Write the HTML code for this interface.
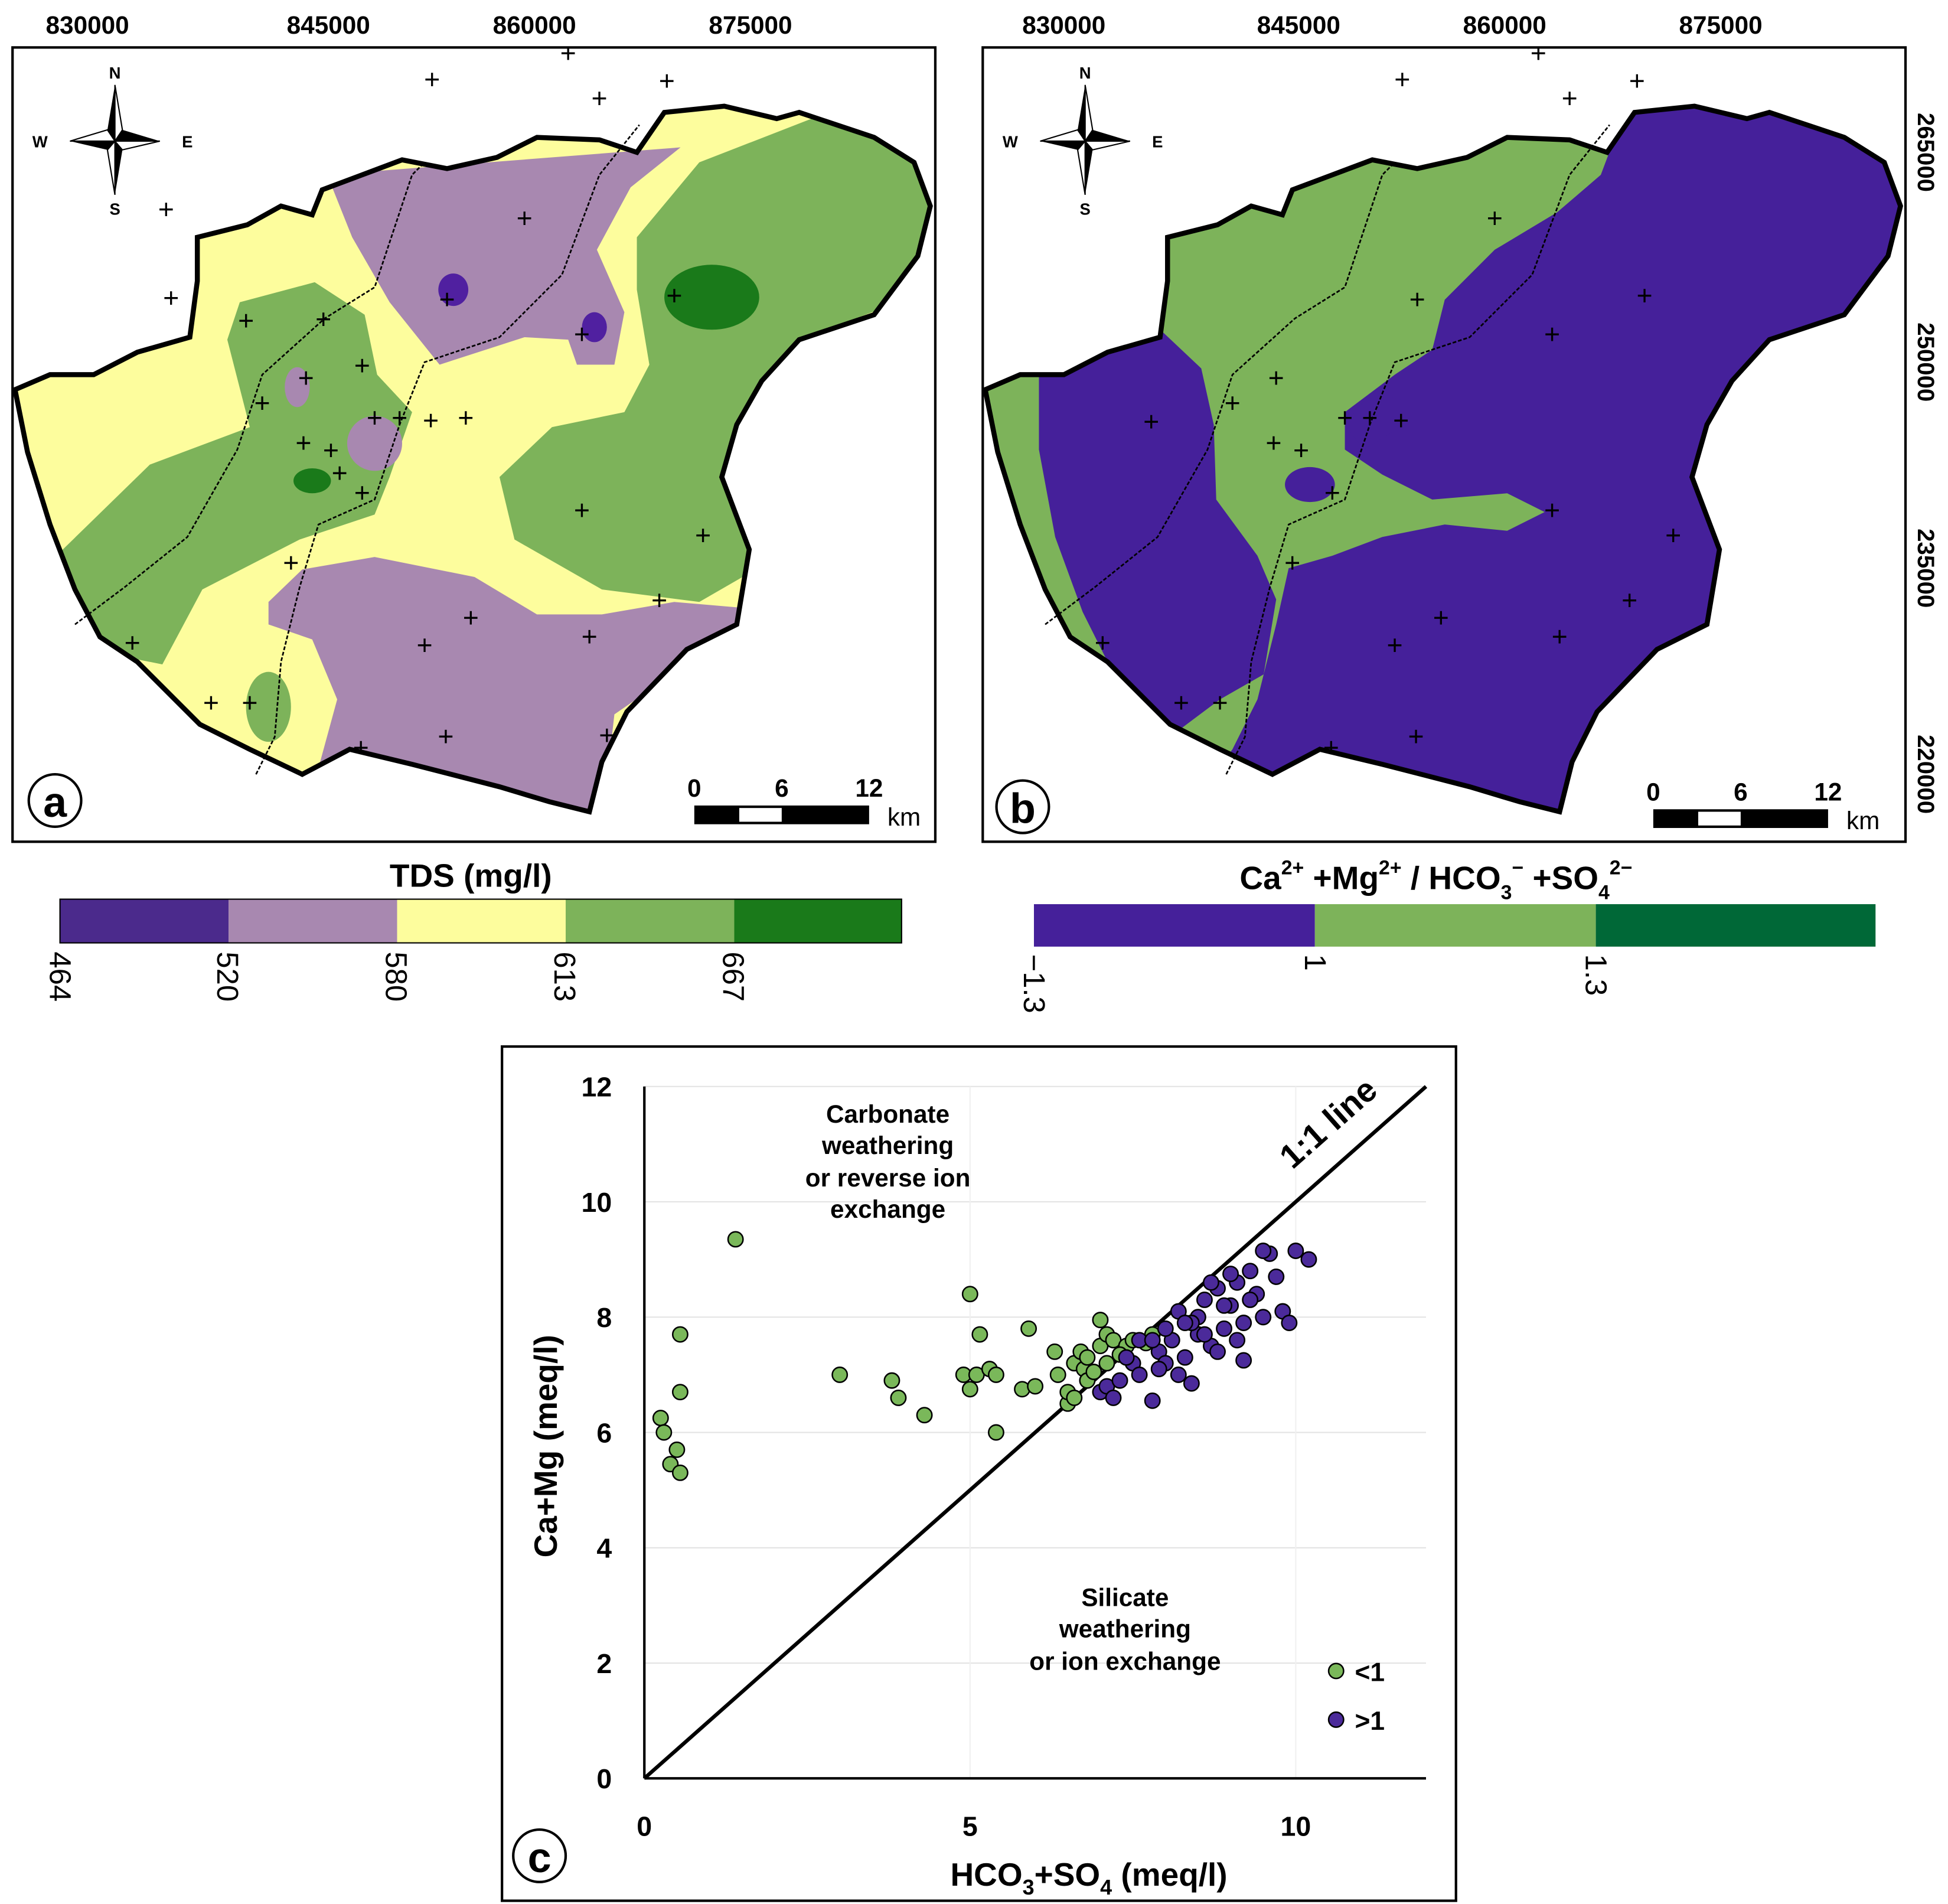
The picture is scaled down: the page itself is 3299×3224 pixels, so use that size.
<!DOCTYPE html>
<html><head><meta charset="utf-8"><style>
html,body{margin:0;padding:0;background:#fff}
svg{display:block}
text{font-family:"Liberation Sans",Arial,sans-serif}
</style></head><body>
<svg id="root" width="3299" height="3224" viewBox="0 0 1560 1524.6" xmlns="http://www.w3.org/2000/svg">
<defs>
<clipPath id="clipMap"><path id="outlinePath" d="M12,312 L40,300 L75,300 L110,282 L152,270 L158,225 L158,190 L198,180 L225,165 L250,172 L258,152 L290,140 L322,128 L358,135 L398,126 L430,110 L480,112 L510,122 L532,90 L580,85 L622,95 L640,90 L700,110 L732,130 L745,165 L735,205 L700,252 L640,272 L610,305 L590,340 L578,382 L600,440 L590,500 L550,520 L502,570 L482,610 L472,650 L440,642 L400,630 L330,612 L280,600 L242,620 L200,600 L160,580 L140,560 L110,530 L80,510 L60,472 L40,420 L22,362 Z"/></clipPath>
</defs>

<!-- ===== Panel a ===== -->
<g>
<rect x="10" y="38" width="739" height="636" fill="#fff" stroke="#000" stroke-width="2"/>
<g clip-path="url(#clipMap)">
<rect x="0" y="0" width="760" height="700" fill="#fdfd9d"/>
<path fill="#a888b0" d="M262,140 L545,118 L505,150 L478,200 L500,250 L492,292 L462,292 L455,272 L420,270 L352,292 L312,242 L282,190 Z"/>
<path fill="#a888b0" d="M215,482 L242,456 L300,446 L380,462 L430,492 L482,492 L540,482 L610,488 L590,512 L550,532 L492,572 L482,660 L400,650 L330,625 L255,615 L270,560 L250,512 L215,500 Z"/>
<path fill="#7db35a" d="M510,190 L560,130 L650,95 L720,100 L760,165 L725,240 L640,272 L602,330 L582,382 L612,452 L560,482 L482,472 L412,432 L400,382 L442,342 L500,330 L520,292 L510,232 Z"/>
<path fill="#7db35a" d="M40,450 L120,372 L200,342 L182,272 L192,242 L252,226 L292,252 L302,300 L330,330 L312,382 L300,412 L240,432 L162,472 L130,532 L80,522 Z"/>
<ellipse cx="215" cy="566" rx="18" ry="28" fill="#7db35a"/>
<ellipse cx="570" cy="238" rx="38" ry="26" fill="#1a7a1a"/>
<ellipse cx="250" cy="385" rx="15" ry="10" fill="#1a7a1a"/>
<ellipse cx="363" cy="232" rx="12" ry="13" fill="#5020a0"/>
<ellipse cx="476" cy="262" rx="10" ry="12" fill="#5020a0"/>
<ellipse cx="300" cy="355" rx="22" ry="22" fill="#a888b0"/>
<ellipse cx="238" cy="310" rx="10" ry="16" fill="#a888b0"/>
</g>
<path d="M12,312 L40,300 L75,300 L110,282 L152,270 L158,225 L158,190 L198,180 L225,165 L250,172 L258,152 L290,140 L322,128 L358,135 L398,126 L430,110 L480,112 L510,122 L532,90 L580,85 L622,95 L640,90 L700,110 L732,130 L745,165 L735,205 L700,252 L640,272 L610,305 L590,340 L578,382 L600,440 L590,500 L550,520 L502,570 L482,610 L472,650 L440,642 L400,630 L330,612 L280,600 L242,620 L200,600 L160,580 L140,560 L110,530 L80,510 L60,472 L40,420 L22,362 Z" fill="none" stroke="#000" stroke-width="4"/>
<g fill="none" stroke="#000" stroke-width="1.3" stroke-dasharray="3,1.5">
<path d="M60,500 L100,470 L150,430 L190,360 L210,300 L260,255 L300,230 L330,140 L340,130"/>
<path d="M205,620 L220,590 L225,530 L240,470 L255,420 L300,400 L320,340 L340,290 L400,270 L450,220 L480,140 L512,100"/>
</g>
<g font-size="22" text-anchor="middle">
<text x="346" y="71">+</text><text x="455" y="50">+</text><text x="480" y="86">+</text><text x="534" y="72">+</text><text x="133" y="175">+</text><text x="420" y="182">+</text><text x="137" y="246">+</text><text x="358" y="247">+</text><text x="466" y="275">+</text><text x="540" y="244">+</text><text x="197" y="264">+</text><text x="259" y="263">+</text><text x="290" y="300">+</text><text x="210" y="330">+</text><text x="245" y="310">+</text><text x="300" y="342">+</text><text x="320" y="342">+</text><text x="345" y="344">+</text><text x="373" y="342">+</text><text x="243" y="362">+</text><text x="265" y="368">+</text><text x="272" y="386">+</text><text x="290" y="402">+</text><text x="466" y="416">+</text><text x="563" y="436">+</text><text x="233" y="458">+</text><text x="528" y="488">+</text><text x="377" y="502">+</text><text x="472" y="517">+</text><text x="340" y="524">+</text><text x="106" y="522">+</text><text x="169" y="570">+</text><text x="200" y="570">+</text><text x="289" y="606">+</text><text x="357" y="597">+</text><text x="486" y="596">+</text>
</g>
<g>
<polygon points="92,68 98,104 128,113 98,120 92,156 86,120 56,113 86,104" fill="#000"/>
<polygon points="92,68 98,104 92,113" fill="#fff" stroke="#000"/><polygon points="128,113 98,120 92,113" fill="#fff" stroke="#000"/><polygon points="92,156 86,120 92,113" fill="#fff" stroke="#000"/><polygon points="56,113 86,104 92,113" fill="#fff" stroke="#000"/>
<text x="92" y="63" font-size="13" font-weight="bold" text-anchor="middle">N</text><text x="92" y="172" font-size="13" font-weight="bold" text-anchor="middle">S</text><text x="32" y="118" font-size="13" font-weight="bold" text-anchor="middle">W</text><text x="150" y="118" font-size="13" font-weight="bold" text-anchor="middle">E</text>
</g>
<g>
<rect x="556" y="645" width="140" height="15" fill="#000"/><rect x="592" y="647" width="34" height="11" fill="#fff"/>
<text x="556" y="638" font-size="20" font-weight="bold" text-anchor="middle">0</text><text x="626" y="638" font-size="20" font-weight="bold" text-anchor="middle">6</text><text x="696" y="638" font-size="20" font-weight="bold" text-anchor="middle">12</text><text x="724" y="661" font-size="20" text-anchor="middle">km</text>
</g>
<circle cx="44" cy="641" r="21" fill="#fff" stroke="#000" stroke-width="2"/><text x="44" y="654" font-size="34" font-weight="bold" text-anchor="middle">a</text>
<g font-size="20" font-weight="bold" text-anchor="middle">
<text x="70" y="27">830000</text><text x="263" y="27">845000</text><text x="428" y="27">860000</text><text x="601" y="27">875000</text>
</g>
</g>

<!-- ===== Panel b ===== -->
<g>
<rect x="787" y="38" width="739" height="636" fill="#fff" stroke="#000" stroke-width="2"/>
<g transform="translate(777,0)">
<g clip-path="url(#clipMap)">
<rect x="0" y="0" width="760" height="700" fill="#45209a"/>
<path fill="#7db35a" d="M0,280 L150,260 L160,170 L300,120 L520,100 L505,140 L470,170 L420,200 L380,240 L370,280 L340,300 L300,330 L300,360 L330,380 L370,400 L430,395 L460,410 L430,425 L380,420 L330,430 L290,445 L255,455 L245,500 L230,560 L210,600 L180,640 L0,640 Z"/>
<path fill="#45209a" d="M55,290 L100,262 L150,262 L185,295 L195,340 L197,400 L230,445 L245,480 L235,540 L200,560 L160,590 L115,540 L90,490 L68,430 L55,360 Z"/>
<ellipse cx="272" cy="388" rx="20" ry="14" fill="#45209a"/>
<path fill="#45209a" d="M300,340 L320,315 L345,320 L340,345 L315,360 Z"/>
</g>
<path d="M12,312 L40,300 L75,300 L110,282 L152,270 L158,225 L158,190 L198,180 L225,165 L250,172 L258,152 L290,140 L322,128 L358,135 L398,126 L430,110 L480,112 L510,122 L532,90 L580,85 L622,95 L640,90 L700,110 L732,130 L745,165 L735,205 L700,252 L640,272 L610,305 L590,340 L578,382 L600,440 L590,500 L550,520 L502,570 L482,610 L472,650 L440,642 L400,630 L330,612 L280,600 L242,620 L200,600 L160,580 L140,560 L110,530 L80,510 L60,472 L40,420 L22,362 Z" fill="none" stroke="#000" stroke-width="4"/>
<g fill="none" stroke="#000" stroke-width="1.3" stroke-dasharray="3,1.5">
<path d="M60,500 L100,470 L150,430 L190,360 L210,300 L260,255 L300,230 L330,140 L340,130"/>
<path d="M205,620 L220,590 L225,530 L240,470 L255,420 L300,400 L320,340 L340,290 L400,270 L450,220 L480,140 L512,100"/>
</g>
<g font-size="22" text-anchor="middle">
<text x="346" y="71">+</text><text x="455" y="50">+</text><text x="480" y="86">+</text><text x="534" y="72">+</text><text x="420" y="182">+</text><text x="358" y="247">+</text><text x="466" y="275">+</text><text x="540" y="244">+</text><text x="145" y="345">+</text><text x="210" y="330">+</text><text x="245" y="310">+</text><text x="300" y="342">+</text><text x="320" y="342">+</text><text x="345" y="344">+</text><text x="243" y="362">+</text><text x="265" y="368">+</text><text x="290" y="402">+</text><text x="466" y="416">+</text><text x="563" y="436">+</text><text x="258" y="458">+</text><text x="528" y="488">+</text><text x="377" y="502">+</text><text x="472" y="517">+</text><text x="340" y="524">+</text><text x="106" y="522">+</text><text x="169" y="570">+</text><text x="200" y="570">+</text><text x="289" y="606">+</text><text x="357" y="597">+</text>
</g>
<g>
<polygon points="92,68 98,104 128,113 98,120 92,156 86,120 56,113 86,104" fill="#000"/>
<polygon points="92,68 98,104 92,113" fill="#fff" stroke="#000"/><polygon points="128,113 98,120 92,113" fill="#fff" stroke="#000"/><polygon points="92,156 86,120 92,113" fill="#fff" stroke="#000"/><polygon points="56,113 86,104 92,113" fill="#fff" stroke="#000"/>
<text x="92" y="63" font-size="13" font-weight="bold" text-anchor="middle">N</text><text x="92" y="172" font-size="13" font-weight="bold" text-anchor="middle">S</text><text x="32" y="118" font-size="13" font-weight="bold" text-anchor="middle">W</text><text x="150" y="118" font-size="13" font-weight="bold" text-anchor="middle">E</text>
</g>
<g>
<rect x="547" y="648" width="140" height="15" fill="#000"/><rect x="583" y="650" width="34" height="11" fill="#fff"/>
<text x="547" y="641" font-size="20" font-weight="bold" text-anchor="middle">0</text><text x="617" y="641" font-size="20" font-weight="bold" text-anchor="middle">6</text><text x="687" y="641" font-size="20" font-weight="bold" text-anchor="middle">12</text><text x="715" y="664" font-size="20" text-anchor="middle">km</text>
</g>
<circle cx="42" cy="646" r="21" fill="#fff" stroke="#000" stroke-width="2"/><text x="42" y="659" font-size="34" font-weight="bold" text-anchor="middle">b</text>
</g>
<g font-size="20" font-weight="bold" text-anchor="middle">
<text x="852" y="27">830000</text><text x="1040" y="27">845000</text><text x="1205" y="27">860000</text><text x="1378" y="27">875000</text>
</g>
<g font-size="19" font-weight="bold" text-anchor="middle">
<text transform="translate(1536,122) rotate(90)">265000</text><text transform="translate(1536,290) rotate(90)">250000</text><text transform="translate(1536,455) rotate(90)">235000</text><text transform="translate(1536,620) rotate(90)">220000</text>
</g>
</g>

<!-- ===== Legends ===== -->
<g>
<text x="377" y="710" font-size="26" font-weight="bold" text-anchor="middle">TDS (mg/l)</text>
<rect x="48" y="720" width="135" height="35" fill="#4b2a8c"/><rect x="183" y="720" width="135" height="35" fill="#a888b0"/><rect x="318" y="720" width="135" height="35" fill="#fdfd9d"/><rect x="453" y="720" width="135" height="35" fill="#7db35a"/><rect x="588" y="720" width="134" height="35" fill="#1a7a1a"/>
<rect x="48" y="720" width="674" height="35" fill="none" stroke="#000" stroke-width="1"/>
<g font-size="24">
<text transform="translate(40,762) rotate(90)">464</text><text transform="translate(174,762) rotate(90)">520</text><text transform="translate(309,762) rotate(90)">580</text><text transform="translate(444,762) rotate(90)">613</text><text transform="translate(579,762) rotate(90)">667</text>
</g>
</g>
<g>
<text x="1150" y="712" font-size="26" font-weight="bold" text-anchor="middle">Ca<tspan font-size="16" dy="-12">2+</tspan><tspan dy="12"> +Mg</tspan><tspan font-size="16" dy="-12">2+</tspan><tspan dy="12"> / HCO</tspan><tspan font-size="16" dy="8">3</tspan><tspan font-size="16" dy="-20">−</tspan><tspan dy="12"> +SO</tspan><tspan font-size="16" dy="8">4</tspan><tspan font-size="16" dy="-20">2−</tspan></text>
<rect x="828" y="724" width="225" height="34" fill="#45209a"/><rect x="1053" y="724" width="225" height="34" fill="#7db35a"/><rect x="1278" y="724" width="224" height="34" fill="#006837"/>
<g font-size="24">
<text transform="translate(820,764) rotate(90)">−1.3</text><text transform="translate(1045,764) rotate(90)">1</text><text transform="translate(1270,764) rotate(90)">1.3</text>
</g>
</g>

<!-- ===== Panel c ===== -->
<g>
<rect x="402" y="838" width="764" height="684" fill="#fff" stroke="#000" stroke-width="2"/>
<g id="grid"></g>
<line x1="516" y1="870" x2="516" y2="1424" stroke="#000" stroke-width="2"/>
<line x1="516" y1="1424" x2="1142" y2="1424" stroke="#000" stroke-width="2"/>
<g id="yticks" font-size="22" font-weight="bold" text-anchor="end"></g>
<g id="xticks" font-size="22" font-weight="bold" text-anchor="middle"></g>
<line id="oneLine" stroke="#000" stroke-width="3"/>
<text id="oneLabel" font-size="27" font-weight="bold" text-anchor="middle">1:1 line</text>
<g id="points"></g>
<text transform="translate(446,1158) rotate(-90)" font-size="26" font-weight="bold" text-anchor="middle">Ca+Mg (meq/l)</text>
<text x="872" y="1510" font-size="26" font-weight="bold" text-anchor="middle">HCO<tspan font-size="17" dy="7">3</tspan><tspan dy="-7">+SO</tspan><tspan font-size="17" dy="7">4</tspan><tspan dy="-7"> (meq/l)</tspan></text>
<g font-size="20" font-weight="bold" text-anchor="middle">
<text x="711" y="899">Carbonate</text><text x="711" y="924">weathering</text><text x="711" y="950">or reverse ion</text><text x="711" y="975">exchange</text>
</g>
<g font-size="20" font-weight="bold" text-anchor="middle">
<text x="901" y="1286">Silicate</text><text x="901" y="1311">weathering</text><text x="901" y="1337">or ion exchange</text>
</g>
<g>
<circle cx="1070" cy="1338" r="6" fill="#7ab85a" stroke="#000" stroke-width="1.2"/><text x="1085" y="1346" font-size="21" font-weight="bold">&lt;1</text>
<circle cx="1070" cy="1377" r="6" fill="#4b2a9a" stroke="#000" stroke-width="1.2"/><text x="1085" y="1385" font-size="21" font-weight="bold">&gt;1</text>
</g>
<circle cx="432" cy="1486" r="21" fill="#fff" stroke="#000" stroke-width="2"/><text x="432" y="1499" font-size="34" font-weight="bold" text-anchor="middle">c</text>
</g>
</svg>
<script>
var xTicks=[0,5,10];
var yTicks=[0,2,4,6,8,10,12];
var greenX=[0.25,0.3,0.4,0.5,0.55,0.55,0.55,1.4,3.0,3.8,3.9,4.3,4.9,5.0,5.0,5.1,5.15,5.3,5.4,5.4,5.8,5.9,6.0,6.3,6.35,6.5,6.5,6.6,6.6,6.7,6.75,6.8,6.8,7.0,7.0,7.1,7.1,7.2,7.4,7.5,7.7,7.8,6.9,7.3];
var greenY=[6.25,6.0,5.45,5.7,5.3,6.7,7.7,9.35,7.0,6.9,6.6,6.3,7.0,6.75,8.4,7.0,7.7,7.1,7.0,6.0,6.75,7.8,6.8,7.4,7.0,6.5,6.7,7.2,6.6,7.4,7.1,6.9,7.3,7.95,7.5,7.2,7.7,7.6,7.5,7.6,7.55,7.7,7.05,7.35];
var purpleX=[7.0,7.1,7.3,7.5,7.6,7.8,7.9,8.0,8.1,8.2,8.3,8.4,8.5,8.5,8.6,8.7,8.8,8.9,9.0,9.1,9.2,9.2,9.3,9.4,9.5,9.6,9.7,9.8,9.9,10.0,10.2,8.2,8.4,8.0,7.6,8.7,9.1,8.9,9.0,9.5,7.2,7.4,7.8,8.6,9.3,8.3,7.9,8.8];
var purpleY=[6.7,6.8,6.9,7.2,7.0,6.55,7.4,7.2,7.6,7.0,7.3,6.85,7.7,8.0,8.3,7.5,8.5,7.8,8.2,8.6,7.9,7.25,8.8,8.4,8.0,9.1,8.7,8.1,7.9,9.15,9.0,8.1,7.9,7.8,7.6,8.6,7.6,8.2,8.75,9.15,6.6,7.3,7.6,7.7,8.3,7.9,7.1,7.4];
var ns='http://www.w3.org/2000/svg';
function sx(v){return 516+v*(1142-516)/12;}
function sy(v){return 1424-v*(1424-870)/12;}
var grid=document.getElementById('grid'),yt=document.getElementById('yticks'),xt=document.getElementById('xticks'),pts=document.getElementById('points');
yTicks.forEach(function(t){
  if(t>0){var l=document.createElementNS(ns,'line');
  
  
  l.setAttribute('x1',516);l.setAttribute('x2',1142);l.setAttribute('y1',sy(t));l.setAttribute('y2',sy(t));l.setAttribute('stroke','#e3e3e3');l.setAttribute('stroke-width','1');grid.appendChild(l);}
  var tx=document.createElementNS(ns,'text');
  
  
  tx.setAttribute('x',490);tx.setAttribute('y',sy(t)+8);tx.textContent=t;yt.appendChild(tx);
});
xTicks.forEach(function(t){
  if(t>0){var l=document.createElementNS(ns,'line');
  
  
  l.setAttribute('x1',sx(t));l.setAttribute('x2',sx(t));l.setAttribute('y1',870);l.setAttribute('y2',1424);l.setAttribute('stroke','#f0f0f0');l.setAttribute('stroke-width','1');grid.appendChild(l);}
  var tx=document.createElementNS(ns,'text');
  
  
  tx.setAttribute('x',sx(t));tx.setAttribute('y',1470);tx.textContent=t;xt.appendChild(tx);
});
var ol=document.getElementById('oneLine');
ol.setAttribute('x1',sx(0));ol.setAttribute('y1',sy(0));ol.setAttribute('x2',sx(12));ol.setAttribute('y2',sy(12));
var lab=document.getElementById('oneLabel');
lab.setAttribute('transform','translate('+(sx(11)-20)+','+(sy(11)-10)+') rotate(-41.5)');
function addPts(xs,ys,col,nm){
  for(var i=0;i<xs.length;i++){
    var c=document.createElementNS(ns,'circle');
    
    
    c.setAttribute('cx',sx(xs[i]));c.setAttribute('cy',sy(ys[i]));c.setAttribute('r',6);
    c.setAttribute('fill',col);c.setAttribute('stroke','#000');c.setAttribute('stroke-width','1.2');
    pts.appendChild(c);
  }
}
addPts(greenX,greenY,'#7ab85a','point-ratio-below-1');
addPts(purpleX,purpleY,'#4b2a9a','point-ratio-above-1');
</script>
</body></html>
